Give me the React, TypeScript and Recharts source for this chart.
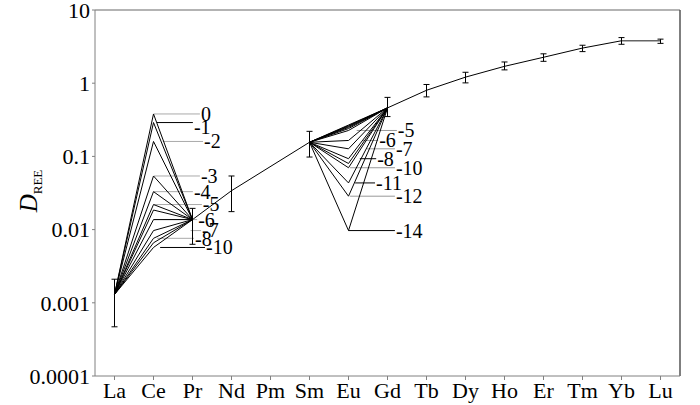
import React from 'react';
import { ComposedChart, Line, XAxis, YAxis, ErrorBar, ReferenceLine } from 'recharts';

const elements = ['La', 'Ce', 'Pr', 'Nd', 'Pm', 'Sm', 'Eu', 'Gd', 'Tb', 'Dy', 'Ho', 'Er', 'Tm', 'Yb', 'Lu'];
const yTicks = [0.0001, 0.001, 0.01, 0.1, 1, 10];
const yTickLabels = ['0.0001', '0.001', '0.01', '0.1', '1', '10'];

const mainElements = ['La', 'Pr', 'Nd', 'Sm', 'Gd', 'Tb', 'Dy', 'Ho', 'Er', 'Tm', 'Yb', 'Lu'];
const mainValues = [0.0013, 0.0137, 0.034, 0.156, 0.46, 0.8, 1.21, 1.7, 2.26, 3.02, 3.8, 3.8];
const mainLow = [0.00047, 0.0063, 0.0176, 0.098, 0.35, 0.65, 1.01, 1.52, 1.99, 2.7, 3.4, 3.5];
const mainHigh = [0.0021, 0.0195, 0.054, 0.22, 0.64, 0.96, 1.41, 1.95, 2.52, 3.3, 4.2, 4.0];

// Ce anomaly curves (La -> Ce -> Pr)
const ceLabels = ['0', '-1', '-2', '-3', '-4', '-5', '', '-6', '-7', '-8', '-9', '-10'];
const ceValues = [0.38, 0.29, 0.16, 0.054, 0.033, 0.022, 0.0185, 0.0137, 0.0097, 0.0076, 0.0066, 0.0057];

// Eu anomaly curves (Sm -> Eu -> Gd)
const euLabels = ['0', '-1', '-2', '-3', '-4', '-5', '-6', '-7', '-8', '-9', '-10', '-11', '-12', '-14'];
const euValues = [0.268, 0.262, 0.256, 0.249, 0.24, 0.226, 0.165, 0.127, 0.093, 0.08, 0.07, 0.0434, 0.0286, 0.0097];

// annotation layout: leader line span (in category units) and colour
const ceLeaders = [
  { label: '0', from: 1.01, to: 2.19, color: '#aaa', dy: 0 },
  { label: '-1', from: 1.09, to: 2.01, color: '#000', dy: 4 },
  { label: '-2', from: 1.24, to: 2.27, color: '#aaa', dy: 0 },
  { label: '-3', from: 1.01, to: 2.19, color: '#aaa', dy: 0 },
  { label: '-4', from: 1.01, to: 2.01, color: '#aaa', dy: 0 },
  { label: '-5', from: 1.01, to: 2.24, color: '#aaa', dy: -1 },
  { label: '-6', from: 1.01, to: 2.12, color: '#aaa', dy: 0 },
  { label: '-7', from: 1.95, to: 2.22, color: '#aaa', dy: -1 },
  { label: '-8', from: 1.09, to: 2.04, color: '#aaa', dy: 1 },
  { label: '-10', from: 1.17, to: 2.32, color: '#000', dy: 0 },
];
const euLeaders = [
  { label: '-5', from: 6.21, to: 7.24, color: '#999', dy: 0 },
  { label: '-6', from: 6.37, to: 6.76, color: '#999', dy: 0 },
  { label: '-7', from: 6.47, to: 7.19, color: '#999', dy: 0 },
  { label: '-8', from: 6.29, to: 6.71, color: '#000', dy: 0 },
  { label: '-10', from: 6.04, to: 7.19, color: '#999', dy: 0 },
  { label: '-11', from: 6.17, to: 6.68, color: '#000', dy: 0 },
  { label: '-12', from: 6.04, to: 7.19, color: '#999', dy: 0 },
  { label: '-14', from: 6.0, to: 7.19, color: '#000', dy: 0 },
];

const FONT = 'Liberation Serif';

const mainPts = mainElements.map((e, i) => ({
  x: elements.indexOf(e),
  y: mainValues[i],
  err: [mainValues[i] - mainLow[i], mainHigh[i] - mainValues[i]],
}));
const ptOf = (e: string) => mainPts[mainElements.indexOf(e)];

const seg1 = ['Pr', 'Nd', 'Sm'].map(ptOf);
const seg2 = ['Gd', 'Tb', 'Dy', 'Ho', 'Er', 'Tm', 'Yb'].map(ptOf);
const seg3 = ['Yb', 'Lu'].map(ptOf);

const ceLines = ceValues.map((v) => [
  { x: 0, y: ptOf('La').y },
  { x: 1, y: v },
  { x: 2, y: ptOf('Pr').y },
]);
const euLines = euValues.map((v) => [
  { x: 5, y: ptOf('Sm').y },
  { x: 6, y: v },
  { x: 7, y: ptOf('Gd').y },
]);

const makeLabel = (text: string, dy: number) => (props: any) => {
  const vb = props.viewBox || {};
  return (
    <text
      x={vb.x + vb.width + 1}
      y={vb.y + dy}
      dy="0.35em"
      fontSize={20}
      fontFamily={FONT}
      style={{ fontFamily: FONT }}
      fill="#000"
      textAnchor="start"
    >
      {text}
    </text>
  );
};

const YLabel = () => (
  <text
    transform="rotate(-90, 37, 191)"
    x={37}
    y={191}
    textAnchor="middle"
    fontFamily={FONT}
    style={{ fontFamily: FONT }}
    fill="#000"
  >
    <tspan fontStyle="italic" fontSize={25}>D</tspan>
    <tspan fontSize={13} dy={5}>REE</tspan>
  </text>
);

const tickStyle = { fontSize: 22, fill: '#000', fontFamily: FONT, style: { fontFamily: FONT } };

export default function App() {
  return (
    <div style={{ position: 'absolute', left: 0, top: 0, background: '#fff', fontFamily: FONT }}>
      <ComposedChart
        width={700}
        height={405}
        margin={{ top: 10, right: 20, bottom: 0, left: 0 }}
        style={{ fontFamily: FONT }}
      >
        <XAxis
          type="number"
          dataKey="x"
          domain={[-0.5, 14.5]}
          ticks={elements.map((_, i) => i)}
          tickFormatter={(i: number) => elements[i]}
          allowDataOverflow
          height={29}
          tickSize={4}
          tickMargin={2}
          axisLine={{ stroke: '#808080' }}
          tickLine={{ stroke: '#808080' }}
          tick={tickStyle}
          interval={0}
        />
        <YAxis
          type="number"
          scale="log"
          domain={[0.0001, 10]}
          allowDataOverflow
          ticks={yTicks}
          tickFormatter={(v: number) => yTickLabels[yTicks.indexOf(v)] ?? String(v)}
          width={95}
          tickSize={3}
          tickMargin={2}
          axisLine={{ stroke: '#808080' }}
          tickLine={{ stroke: '#808080' }}
          tick={tickStyle}
          interval={0}
          label={<YLabel />}
        />
        <ReferenceLine y={10} stroke="#9a9a9a" strokeWidth={1.5} />
        <ReferenceLine x={14.5} stroke="#555" strokeWidth={1.5} />

        {ceLeaders.map((l) => {
          const v = ceValues[ceLabels.indexOf(l.label)];
          return (
            <ReferenceLine
              key={'cl' + l.label}
              segment={[{ x: l.from, y: v }, { x: l.to, y: v }]}
              stroke={l.color}
              strokeWidth={1}
              label={makeLabel(l.label, l.dy)}
            />
          );
        })}
        {euLeaders.map((l) => {
          const v = euValues[euLabels.indexOf(l.label)];
          return (
            <ReferenceLine
              key={'el' + l.label}
              segment={[{ x: l.from, y: v }, { x: l.to, y: v }]}
              stroke={l.color}
              strokeWidth={1}
              label={makeLabel(l.label, l.dy)}
            />
          );
        })}

        {ceLines.map((d, i) => (
          <Line
            key={'ce' + i}
            data={d}
            dataKey="y"
            stroke="#000"
            strokeWidth={1}
            dot={false}
            isAnimationActive={false}
          />
        ))}
        {euLines.map((d, i) => (
          <Line
            key={'eu' + i}
            data={d}
            dataKey="y"
            stroke="#000"
            strokeWidth={1}
            dot={false}
            isAnimationActive={false}
          />
        ))}
        <Line data={seg1} dataKey="y" stroke="#000" strokeWidth={1} dot={false} isAnimationActive={false} />
        <Line data={seg2} dataKey="y" stroke="#000" strokeWidth={1} dot={false} isAnimationActive={false} />
        <Line data={seg3} dataKey="y" stroke="#666" strokeWidth={1.5} dot={false} isAnimationActive={false} />
        <Line data={mainPts} dataKey="y" stroke="none" dot={false} isAnimationActive={false}>
          <ErrorBar dataKey="err" width={3} stroke="#000" strokeWidth={1} direction="y" />
        </Line>
      </ComposedChart>
    </div>
  );
}
